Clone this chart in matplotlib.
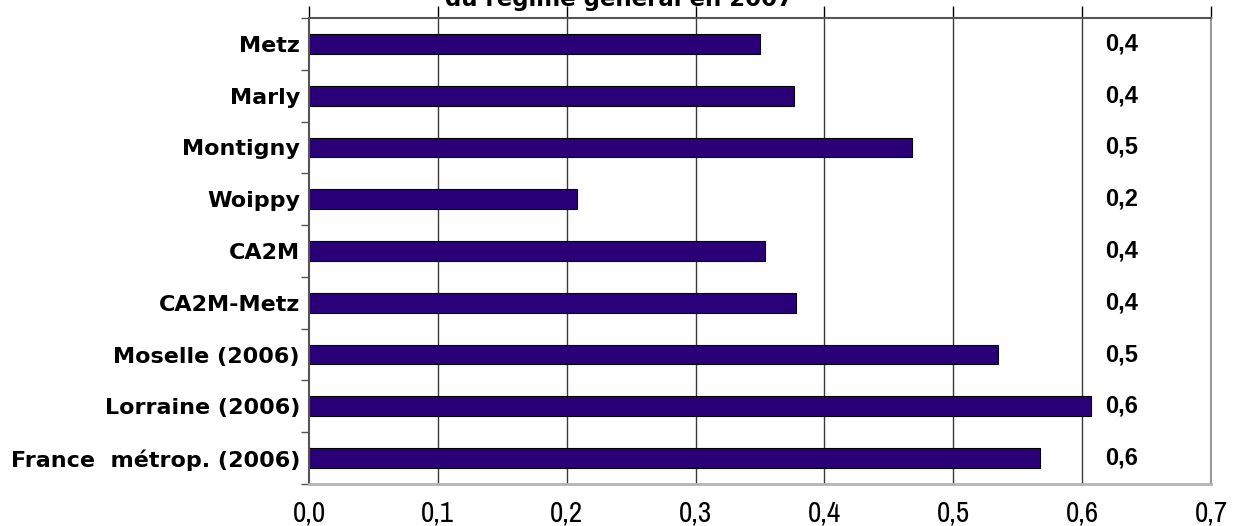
import matplotlib
matplotlib.use("Agg")
import matplotlib.pyplot as plt
from matplotlib import font_manager
from matplotlib.transforms import blended_transform_factory
from decimal import Decimal, ROUND_HALF_UP

# Data
categories = ["Metz", "Marly", "Montigny", "Woippy", "CA2M", "CA2M-Metz",
              "Moselle (2006)", "Lorraine (2006)", "France  métrop. (2006)"]
values = [0.35, 0.376, 0.468, 0.208, 0.354, 0.378, 0.535, 0.607, 0.567]
x_ticks = [0.0, 0.1, 0.2, 0.3, 0.4, 0.5, 0.6, 0.7]
title_tail = "du régime général en 2007"


def fr1(v):
    """One-decimal French formatting, rounding half up."""
    d = Decimal(str(v)).quantize(Decimal("0.1"), rounding=ROUND_HALF_UP)
    return f"{d}".replace(".", ",")


# prefer a condensed sans for the axis numbers when one is available
installed = sorted({f.name for f in font_manager.fontManager.ttflist})
narrow = "Liberation Sans"
for cand in installed:
    if ("Narrow" in cand or "Condensed" in cand) and "Mono" not in cand:
        narrow = cand
        break

W, H = 1245, 526
fig = plt.figure(figsize=(W / 100, H / 100), dpi=100)
ax = fig.add_axes([309 / W, 1 - 484 / H, (1211 - 309) / W, (484 - 18) / H])

ypos = list(range(len(categories)))
ax.barh(ypos, values, height=0.38, color="#2a0078", edgecolor="#000000",
        linewidth=0.8, zorder=3)

ax.set_xlim(0, 0.7)
ax.set_ylim(len(categories) - 0.5, -0.5)

# vertical gridlines
for t in x_ticks[1:-1]:
    ax.axvline(t, color="#3a3a3a", linewidth=1.0, zorder=1)

# x tick labels at the bottom, tick marks on the top edge
ax.set_xticks(x_ticks)
ax.set_xticklabels([fr1(t) for t in x_ticks], fontfamily=narrow, fontsize=21)
ax.tick_params(axis="x", which="major", bottom=False, top=True,
               labelbottom=True, labeltop=False, direction="out",
               length=9, width=1.0, color="#000000", pad=2)

# category labels, with small ticks between categories
ax.set_yticks(ypos)
ax.set_yticklabels(categories, fontfamily="DejaVu Sans", fontweight="bold",
                   fontsize=16)
ax.tick_params(axis="y", which="major", left=False, pad=3)
ax.set_yticks([i + 0.5 for i in range(-1, len(categories))], minor=True)
ax.tick_params(axis="y", which="minor", left=True, direction="out",
               length=6, width=1.0, color="#555555")

for name, sp in ax.spines.items():
    sp.set_zorder(4)
ax.spines["left"].set_color("#555555")
ax.spines["left"].set_linewidth(1.5)
ax.spines["top"].set_color("#555555")
ax.spines["top"].set_linewidth(1.5)
ax.spines["right"].set_color("#999999")
ax.spines["right"].set_linewidth(1.5)
ax.spines["bottom"].set_color("#b4b4b4")
ax.spines["bottom"].set_linewidth(2.0)

# value column on the right
trans = blended_transform_factory(fig.transFigure, ax.transData)
for y, v in zip(ypos, values):
    ax.text(1105 / W, y, fr1(v), transform=trans, ha="left", va="center",
            fontfamily="Liberation Sans", fontweight="bold", fontsize=17,
            color="#000000")

# last line of the title, partly above the top edge
fig.text(619 / W, 1 - 6 / H, title_tail, ha="center", va="baseline",
         fontfamily="DejaVu Sans", fontweight="bold", fontsize=16.5,
         color="#000000")

fig.savefig("out.png", dpi=100)
